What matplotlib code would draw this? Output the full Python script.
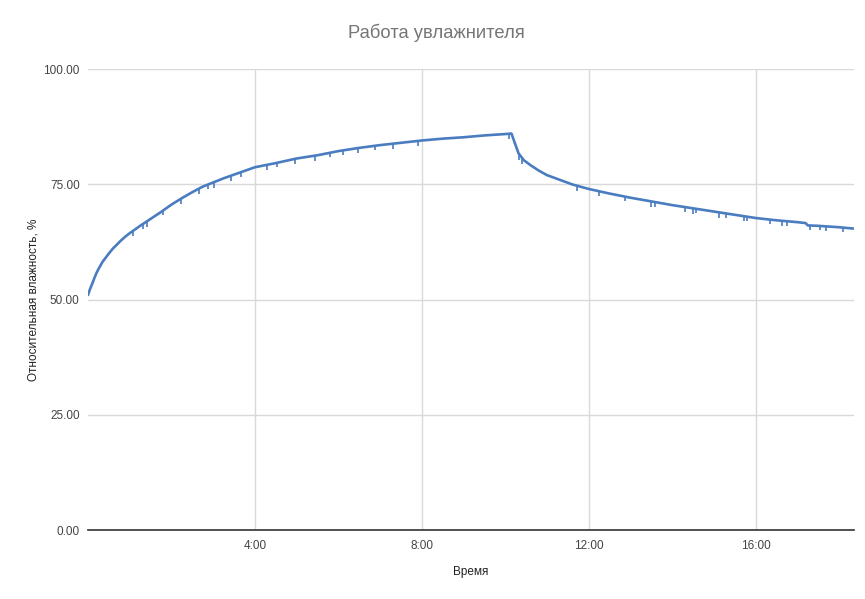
import matplotlib.pyplot as plt

plt.rcParams['font.family'] = ['Liberation Sans', 'DejaVu Sans']

# time in hours since start, relative humidity in %
hours = [0.0, 0.05, 0.1, 0.15, 0.2, 0.25, 0.3, 0.35, 0.45, 0.5, 0.6, 0.7, 0.8, 0.9,
         1.0, 1.25, 1.5, 1.75, 2.0, 2.25, 2.5,
         2.75, 3.0, 3.25, 3.5, 3.75, 4.0, 4.5, 5.0, 5.5, 6.0, 6.5, 7.0, 7.5, 8.0,
         8.5, 9.0, 9.5, 10.0, 10.15, 10.32, 10.45, 10.6, 10.8, 11.0, 11.3, 11.6,
         12.0, 12.5, 13.0, 13.5, 14.0, 14.5, 15.0, 15.5, 16.0, 16.5, 17.0, 17.2,
         17.25, 17.5, 18.0, 18.36]
humidity = [51.0, 52.3, 53.4, 54.6, 55.7, 56.6, 57.4, 58.2, 59.4, 60.0, 61.1, 62.0,
            62.9, 63.7, 64.4, 66.0, 67.5, 69.0, 70.6,
            72.0, 73.3, 74.5, 75.4, 76.3, 77.1, 77.9, 78.7, 79.6, 80.6, 81.3, 82.2,
            82.9, 83.5, 84.0, 84.5, 84.9, 85.2, 85.6, 85.9, 86.0, 81.7, 80.2, 79.2,
            78.0, 77.0, 76.0, 75.0, 74.0, 73.0, 72.1, 71.3, 70.5, 69.8, 69.1, 68.4,
            67.7, 67.2, 66.8, 66.6, 66.1, 66.0, 65.7, 65.4]

# short sensor dropouts visible as downward ticks
dip_hours = [1.09, 1.31, 1.41, 1.81, 2.22, 2.65, 2.87, 3.01, 3.42, 3.66, 4.30, 4.54,
             4.97, 5.43, 5.81, 6.12, 6.46, 6.89, 7.32, 7.90, 10.08, 10.32, 10.40,
             11.73, 12.25, 12.88, 13.50, 13.60, 14.31, 14.51, 14.58, 15.13, 15.30,
             15.73, 15.80, 16.35, 16.64, 16.76, 17.31, 17.55, 17.69, 18.10]
dip_top = [65.0, 66.4, 66.9, 69.4, 71.8, 74.0, 74.9, 75.4, 76.8, 77.6, 79.2, 79.7,
           80.5, 81.2, 81.9, 82.4, 82.8, 83.4, 83.8, 84.4, 86.0, 81.7, 80.6,
           74.7, 73.5, 72.3, 71.3, 71.1, 70.1, 69.8, 69.7, 68.9, 68.7,
           68.1, 68.0, 67.4, 67.1, 67.0, 66.1, 66.0, 65.9, 65.6]
dip_bottom = [63.9, 65.4, 65.7, 68.3, 70.8, 72.9, 73.9, 74.3, 75.7, 76.6, 78.1, 78.7,
              79.4, 80.1, 80.9, 81.3, 81.8, 82.4, 82.7, 83.3, 84.8, 80.3, 79.4,
              73.6, 72.4, 71.3, 70.1, 70.1, 69.0, 68.6, 68.7, 67.8, 67.7,
              67.0, 67.1, 66.4, 66.0, 65.9, 65.0, 65.0, 64.9, 64.7]

xticks = [4, 8, 12, 16]
xtick_labels = ['4:00', '8:00', '12:00', '16:00']
yticks = [0, 25, 50, 75, 100]

blue = '#4a7cc0'

fig = plt.figure(figsize=(8.65, 5.99), dpi=100)
ax = fig.add_axes([0.1017, 0.1147, 0.8856, 0.7701])

ax.vlines(dip_hours, dip_bottom, dip_top, color=blue, lw=1.2, zorder=3)
ax.plot(hours, humidity, color=blue, lw=1.9, zorder=4, solid_capstyle='round',
        solid_joinstyle='round')

ax.set_xlim(0, 18.36)
ax.set_ylim(0, 100)
ax.set_xticks(xticks)
ax.set_xticklabels(xtick_labels)
ax.set_yticks(yticks)
ax.set_yticklabels(['%.2f' % v for v in yticks])
ax.grid(True, color='#d9d9d9', lw=1)
ax.set_axisbelow(True)
for s in ['top', 'right', 'left']:
    ax.spines[s].set_visible(False)
ax.spines['bottom'].set_color('#333333')
ax.spines['bottom'].set_linewidth(1.2)
ax.spines['bottom'].set_zorder(5)
ax.tick_params(length=0, labelsize=8.5, labelcolor='#444444')
ax.tick_params(axis='x', pad=7)
ax.tick_params(axis='y', pad=6)

fig.text(0.505, 0.945, 'Работа увлажнителя', fontsize=13.2, color='#757575',
         ha='center', va='center')
ax.set_xlabel('Время', fontsize=8.5, color='#222222', labelpad=10)
ax.set_ylabel('Относительная влажность, %', fontsize=8.5, color='#222222', labelpad=3)

fig.savefig('out.png', dpi=100)
